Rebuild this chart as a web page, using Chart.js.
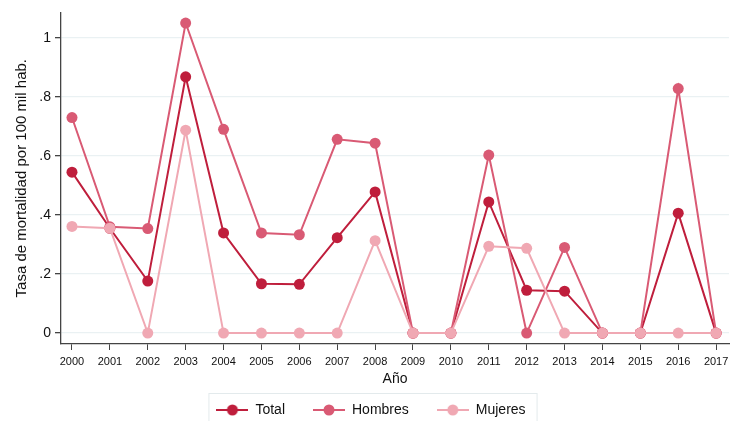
<!DOCTYPE html>
<html>
<head>
<meta charset="utf-8">
<script src="https://cdn.jsdelivr.net/npm/chart.js@4/dist/chart.umd.min.js"></script>
<style>
  html, body { margin: 0; padding: 0; background: #fff; }
  #wrap { width: 738px; height: 421px; }
</style>
</head>
<body>
<div id="wrap"><canvas id="chart"></canvas></div>
<script>
// Tasa de mortalidad por 100 mil hab., 2000-2017
const years = [2000, 2001, 2002, 2003, 2004, 2005, 2006, 2007, 2008,
               2009, 2010, 2011, 2012, 2013, 2014, 2015, 2016, 2017];
const total = [0.545, 0.355, 0.176, 0.868, 0.339, 0.167, 0.165, 0.323, 0.478,
               0, 0, 0.444, 0.145, 0.142, 0, 0, 0.406, 0];
const hombres = [0.73, 0.36, 0.354, 1.05, 0.69, 0.339, 0.333, 0.656, 0.643,
                 0, 0, 0.603, 0, 0.29, 0, 0, 0.828, 0];
const mujeres = [0.361, 0.355, 0, 0.687, 0, 0, 0, 0, 0.313,
                 0, 0, 0.294, 0.287, 0, 0, 0, 0, 0];
const yTicks = [0, 0.2, 0.4, 0.6, 0.8, 1];

const colors = { total: '#bf1e3c', hombres: '#d95a74', mujeres: '#f0a8b3' };
const FONT = '"Liberation Sans", Arial, sans-serif';

// legend symbol: short line with a dot in the middle
function legendIcon(color) {
    const c = document.createElement('canvas');
    c.width = 32; c.height = 14;
    const g = c.getContext('2d');
    g.strokeStyle = color; g.lineWidth = 2;
    g.beginPath(); g.moveTo(0, 7); g.lineTo(32, 7); g.stroke();
    g.fillStyle = color;
    g.beginPath(); g.arc(16, 7, 5.5, 0, Math.PI * 2); g.fill();
    return c;
}

// order: later series sit on top (Mujeres drawn last)
function series(label, values, color, order) {
    return {
        label: label,
        data: years.map((y, i) => ({ x: y, y: values[i] })),
        borderColor: color,
        backgroundColor: color,
        borderWidth: 2,
        pointRadius: 5.5,
        pointHoverRadius: 5.5,
        pointBorderWidth: 0,
        pointStyle: 'circle',
        legendIcon: legendIcon(color),
        order: order,
        tension: 0
    };
}

// box around the legend items
const legendBox = {
    id: 'legendBox',
    afterDraw(chart) {
        const boxes = chart.legend.legendHitBoxes;
        if (!boxes || !boxes.length) return;
        const left = Math.min(...boxes.map(b => b.left)) - 8;
        const right = Math.max(...boxes.map(b => b.left + b.width)) + 11;
        const top = Math.min(...boxes.map(b => b.top)) - 10;
        const bottom = Math.max(...boxes.map(b => b.top + b.height)) + 12;
        const ctx = chart.ctx;
        ctx.save();
        ctx.strokeStyle = '#e3eaec';
        ctx.lineWidth = 1;
        ctx.strokeRect(left + 0.5, top + 0.5, right - left, bottom - top);
        ctx.restore();
    }
};

new Chart(document.getElementById('chart'), {
    type: 'line',
    data: {
        datasets: [
            series('Total', total, colors.total, 2),
            series('Hombres', hombres, colors.hombres, 1),
            series('Mujeres', mujeres, colors.mujeres, 0)
        ]
    },
    options: {
        responsive: true,
        maintainAspectRatio: false,
        animation: false,
        layout: { padding: { top: 10, right: 9, left: 13, bottom: -6 } },
        plugins: {
            tooltip: { enabled: false },
            legend: {
                position: 'bottom',
                labels: {
                    usePointStyle: true,
                    pointStyleWidth: 32,
                    font: { family: FONT, size: 14 },
                    color: '#111',
                    padding: 28,
                    generateLabels(chart) {
                        return chart.data.datasets.map((ds, i) => ({
                            text: ds.label,
                            pointStyle: ds.legendIcon,
                            fillStyle: ds.borderColor,
                            strokeStyle: ds.borderColor,
                            lineWidth: 0,
                            fontColor: '#111',
                            hidden: false,
                            datasetIndex: i
                        }));
                    }
                }
            }
        },
        scales: {
            x: {
                type: 'linear',
                min: 1999.71,
                max: 2017.34,
                afterBuildTicks(scale) {
                    scale.ticks = years.map(v => ({ value: v }));
                },
                afterFit(scale) { scale.height = 31; },
                ticks: {
                    font: { family: FONT, size: 11 },
                    color: '#111',
                    maxRotation: 0,
                    autoSkip: false,
                    padding: 5,
                    callback: v => String(v)
                },
                grid: { drawOnChartArea: false, tickColor: '#444', tickLength: 6 },
                border: { color: '#444', width: 1.3 },
                title: {
                    display: true, text: 'Año',
                    font: { family: FONT, size: 14 }, color: '#111',
                    padding: { top: 0, bottom: -13 }
                }
            },
            y: {
                min: -0.037,
                max: 1.086,
                afterBuildTicks(scale) {
                    scale.ticks = yTicks.map(v => ({ value: v }));
                },
                afterFit(scale) { scale.width = 48; },
                ticks: {
                    font: { family: FONT, size: 14 },
                    color: '#111',
                    padding: 4,
                    callback: v => v === 0 ? '0' : (v === 1 ? '1' : String(+v.toFixed(1)).replace(/^0/, ''))
                },
                grid: { color: '#eaf1f3', lineWidth: 1.3, tickColor: '#444', tickLength: 6 },
                border: { color: '#444', width: 1.3 },
                title: {
                    display: true, text: 'Tasa de mortalidad por 100 mil hab.',
                    font: { family: FONT, size: 15 }, color: '#111',
                    padding: { top: 0, bottom: 0 }
                }
            }
        }
    },
    plugins: [legendBox]
});
</script>
</body>
</html>
